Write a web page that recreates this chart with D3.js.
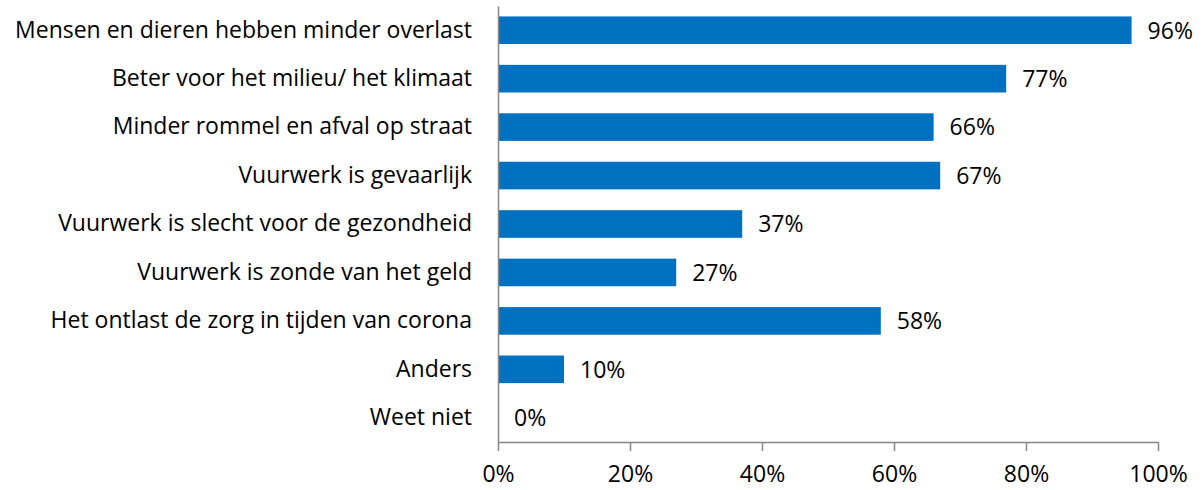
<!DOCTYPE html>
<html>
<head>
<meta charset="utf-8">
<script src="https://cdn.jsdelivr.net/npm/d3@7"></script>
<style>
  body { margin: 0; background: #fff; }
  svg text { font-family: "Open Sans", sans-serif; fill: #000; }
</style>
</head>
<body>
<div id="chart"></div>
<script>
const categories = [
    "Mensen en dieren hebben minder overlast",
    "Beter voor het milieu/ het klimaat",
    "Minder rommel en afval op straat",
    "Vuurwerk is gevaarlijk",
    "Vuurwerk is slecht voor de gezondheid",
    "Vuurwerk is zonde van het geld",
    "Het ontlast de zorg in tijden van corona",
    "Anders",
    "Weet niet"
];
const values = [96, 77, 66, 67, 37, 27, 58, 10, 0];
const xTicks = [0, 20, 40, 60, 80, 100];

const width = 1204, height = 490;
const margins = { left: 498, right: 46, top: 6, bottom: 48 };
const fontSize = "23px";

const svg = d3.select("#chart").append("svg")
    .attr("width", width)
    .attr("height", height);

const x = d3.scaleLinear()
    .domain([0, 100])
    .range([margins.left, width - margins.right]);

const y = d3.scaleBand()
    .domain(categories)
    .range([margins.top, height - margins.bottom])
    .paddingInner(0.43)
    .paddingOuter(0.215);

// bars
svg.selectAll("rect.bar")
    .data(categories)
    .enter()
    .append("rect")
    .attr("class", "bar")
    .attr("x", x(0))
    .attr("y", d => y(d))
    .attr("width", (d, i) => x(values[i]) - x(0))
    .attr("height", y.bandwidth())
    .attr("fill", "#0070C0");

// value labels
svg.selectAll("text.val")
    .data(categories)
    .enter()
    .append("text")
    .attr("class", "val")
    .attr("x", (d, i) => x(values[i]) + 16)
    .attr("y", d => y(d) + y.bandwidth() / 2)
    .attr("dy", "0.36em")
    .style("font-size", fontSize)
    .text((d, i) => values[i] + "%");

// x axis
const axisY = height - margins.bottom;
const xAxis = svg.append("g")
    .attr("transform", `translate(0,${axisY})`)
    .call(d3.axisBottom(x).tickValues(xTicks).tickSize(9).tickSizeOuter(0).tickPadding(15).tickFormat(d => d + "%"));
xAxis.select(".domain").attr("stroke", "#868686").attr("stroke-width", 1.5);
xAxis.selectAll(".tick line").attr("stroke", "#868686").attr("stroke-width", 1.5);
xAxis.selectAll(".tick text").style("font-size", fontSize).attr("fill", "#000");

// y axis line (no ticks)
const yAxis = svg.append("g")
    .attr("transform", `translate(${x(0)},0)`)
    .call(d3.axisLeft(y).tickSize(0).tickPadding(26));
yAxis.select(".domain").attr("stroke", "#868686").attr("stroke-width", 1.5);
yAxis.selectAll(".tick text").style("font-size", fontSize).attr("fill", "#000");
</script>
</body>
</html>
